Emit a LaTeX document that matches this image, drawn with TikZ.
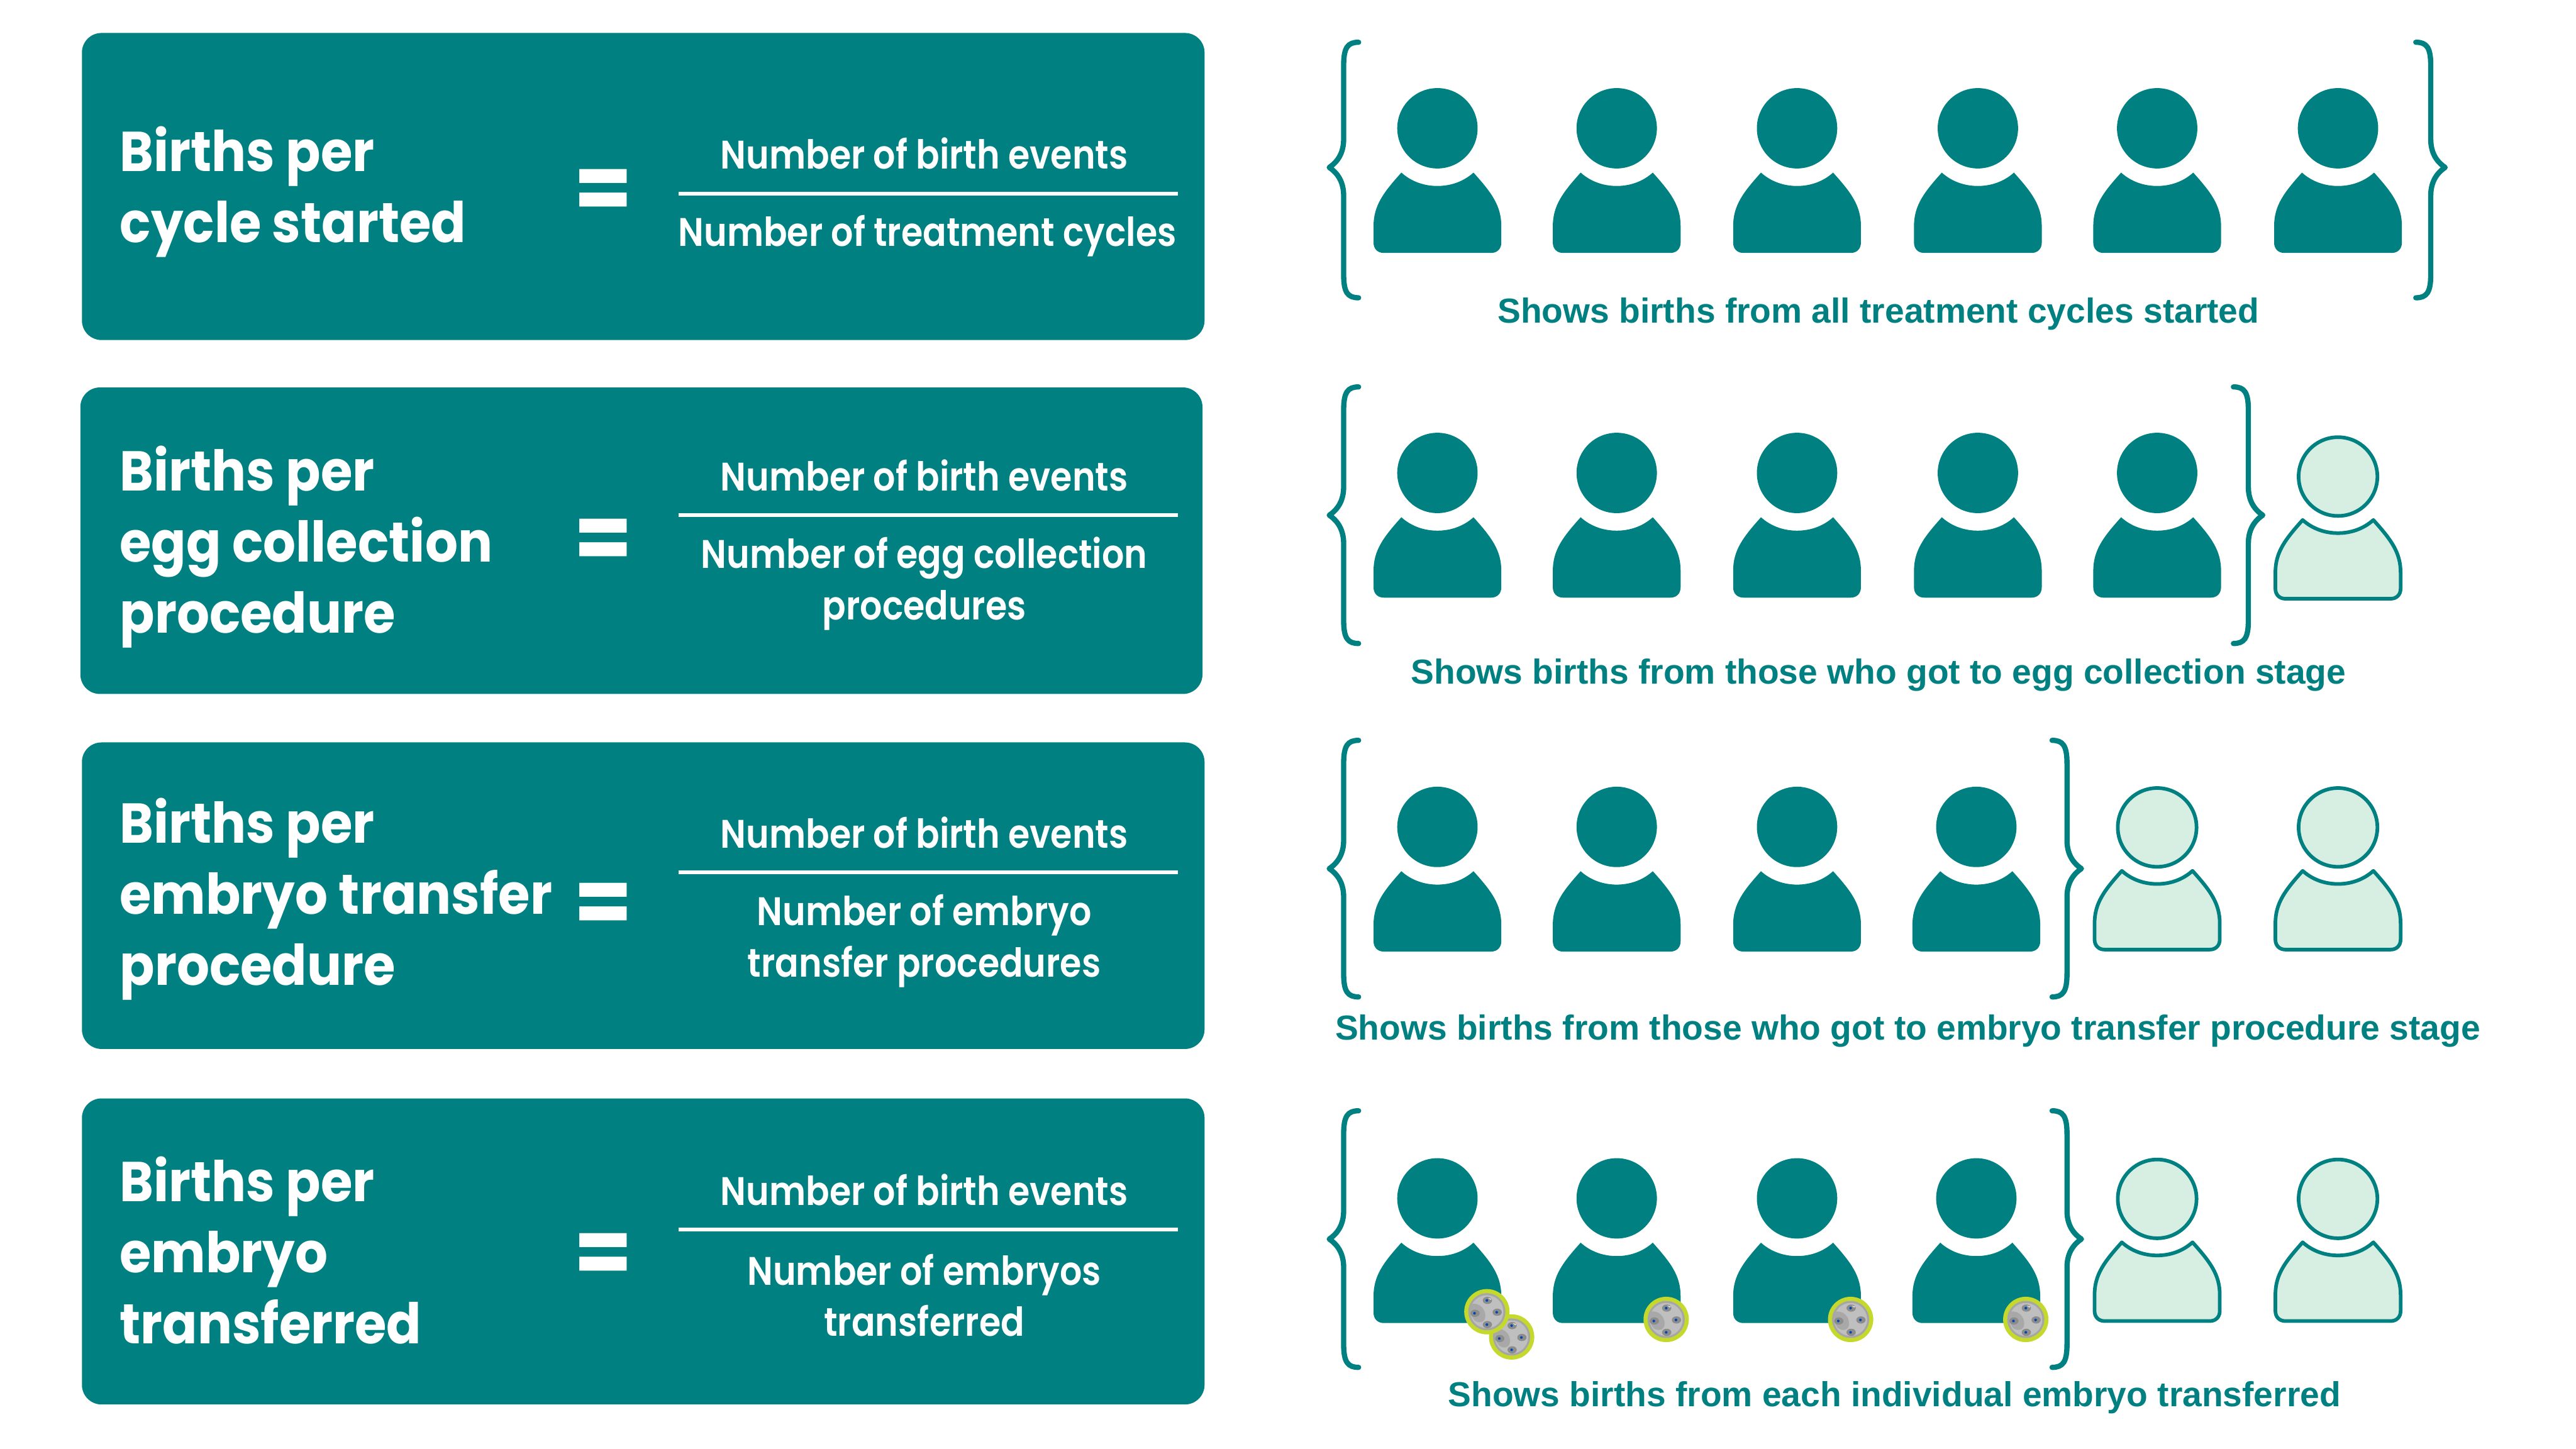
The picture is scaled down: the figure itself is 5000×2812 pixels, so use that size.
\documentclass[tikz,border=0pt]{standalone}
\usepackage{fontspec}
\setmainfont{Liberation Sans}
\newfontfamily\futura[FakeStretch=0.915]{Poppins}
\newfontfamily\futuramed[FakeStretch=0.875]{Poppins SemiBold}
\definecolor{tealbox}{HTML}{008080}
\definecolor{palegreen}{HTML}{D7EEE3}
\definecolor{limering}{HTML}{C5D92D}
\tikzset{
  rowbox/.style={fill=tealbox,rounded corners=0.38cm},
  titletext/.style={anchor=west,inner sep=0,text=white,align=left,font=\futura\bfseries\fontsize{31}{39.2}\selectfont},
  fractext/.style={anchor=center,inner sep=0,text=white,align=center,font=\futuramed\fontsize{22}{28.4}\selectfont},
  eqtext/.style={anchor=center,inner sep=0,text=white,font=\futura\bfseries\fontsize{51}{51}\selectfont},
  captext/.style={anchor=base,inner sep=0,text=tealbox,font=\bfseries\fontsize{19.15}{23}\selectfont},
  fracline/.style={draw=white,line width=2pt},
  bracket/.style={draw=tealbox,line width=2.9pt,line cap=round,line join=round},
}
% one person, head centre at #2,#3
\newcommand{\personshape}[3]{
  \path[#1] (#2,#3) circle (78);
  \path[#1] (#2-70,#3+86) .. controls (#2-50,#3+104) and (#2-25,#3+112) .. (#2,#3+112)
    .. controls (#2+25,#3+112) and (#2+50,#3+104) .. (#2+70,#3+86)
    .. controls (#2+105,#3+125) and (#2+124,#3+150) .. (#2+124,#3+190)
    -- (#2+124,#3+222) .. controls (#2+124,#3+234) and (#2+116,#3+242) .. (#2+104,#3+242)
    -- (#2-104,#3+242) .. controls (#2-116,#3+242) and (#2-124,#3+234) .. (#2-124,#3+222)
    -- (#2-124,#3+190) .. controls (#2-124,#3+150) and (#2-105,#3+125) .. (#2-70,#3+86) -- cycle;
}
\newcommand{\fullperson}[2]{\personshape{fill=tealbox}{#1}{#2+1}}
\newcommand{\emptyperson}[2]{
  \begin{scope}[shift={(#1,#2)},scale=0.98]
    \personshape{fill=palegreen,draw=tealbox,line width=2pt,line join=round}{0}{0}
  \end{scope}
}
% brace, opening to the right (#1=1) or to the left (#1=-1)
\newcommand{\rowbrace}[5]{
  \draw[bracket] (#2+#1*57,#3) .. controls (#2+#1*36,#3) and (#2+#1*28,#3+10) .. (#2+#1*28,#3+45)
    -- (#2+#1*28,#4-55) .. controls (#2+#1*28,#4-30) and (#2+#1*18,#4-12) .. (#2,#4)
    .. controls (#2+#1*18,#4+12) and (#2+#1*28,#4+30) .. (#2+#1*28,#4+55)
    -- (#2+#1*28,#5-45) .. controls (#2+#1*28,#5-10) and (#2+#1*36,#5) .. (#2+#1*57,#5);
}
\newcommand{\embryo}[2]{
  \begin{scope}[shift={(#1,#2)}]
    \fill[limering] (0,0) circle (44);
    \fill[gray!70] (0,0) circle (36);
    \fill[gray!50] (0,0) circle (32);
    \fill[gray!68] (-30,-15) .. controls (-14,-18) and (-3,-5) .. (-3,8) .. controls (-3,20) and (-14,24) .. (-24,17) .. controls (-32,8) and (-34,-5) .. (-30,-15) -- cycle;
    \foreach \cx/\cy in {1/-22,-23/3,20/1,1/25}{
      \fill[gray!90] (\cx,\cy) ellipse (9 and 7);
      \fill[blue!60!cyan!70!black] (\cx-1,\cy) circle (2.6);
    }
    \fill[white!80!gray] (2,-27) -- (9,-25) -- (7,-23) -- cycle;
  \end{scope}
}
\begin{document}
\begin{tikzpicture}[x=0.01cm,y=-0.01cm]
  \useasboundingbox (0,0) rectangle (5000,2812);
  % left boxes
  \path[rowbox] (159,64) rectangle (2338,660);
  \path[rowbox] (156,752) rectangle (2334,1347);
  \path[rowbox] (159,1441) rectangle (2338,2036);
  \path[rowbox] (159,2132) rectangle (2338,2726);
  \node[titletext] (titlea) at (232,372) {Births per\\cycle started};
  \node[titletext] (titleb) at (232,1062) {Births per\\egg collection\\procedure};
  \node[titletext] (titlec) at (232,1745) {Births per\\embryo transfer\\procedure};
  \node[titletext] (titled) at (232,2427) {Births per\\embryo\\transferred};
  \node[eqtext] (eqa) at (1171,378) {=};
  \node[eqtext] (eqb) at (1171,1057) {=};
  \node[eqtext] (eqc) at (1171,1764) {=};
  \node[eqtext] (eqd) at (1171,2444) {=};
  % fractions
  \node[fractext] (numa) at (1794,298) {Number of birth events};
  \node[fractext] (dena) at (1800,458) {Number of treatment cycles};
  \node[fractext] (numb) at (1794,923) {Number of birth events};
  \node[fractext] (denb) at (1794,1133) {Number of egg collection\\procedures};
  \node[fractext] (numc) at (1794,1616) {Number of birth events};
  \node[fractext] (denc) at (1794,1826) {Number of embryo\\transfer procedures};
  \node[fractext] (numd) at (1794,2310) {Number of birth events};
  \node[fractext] (dend) at (1794,2514) {Number of embryos\\transferred};
  \coordinate (lal) at (1317,376);  \coordinate (lar) at (2286,376);
  \coordinate (lbl) at (1317,1000); \coordinate (lbr) at (2286,1000);
  \coordinate (lcl) at (1317,1693); \coordinate (lcr) at (2286,1693);
  \coordinate (ldl) at (1317,2386); \coordinate (ldr) at (2286,2386);
  \draw[fracline] (lal) -- (lar);
  \draw[fracline] (lbl) -- (lbr);
  \draw[fracline] (lcl) -- (lcr);
  \draw[fracline] (ldl) -- (ldr);
  % people
  \foreach \px in {2790,3138,3488,3839,4187,4538}{\fullperson{\px}{248}}
  \foreach \px in {2790,3138,3488,3839,4187}{\fullperson{\px}{917}}
  \emptyperson{4538}{925}
  \foreach \px in {2790,3138,3488,3836}{\fullperson{\px}{1604}}
  \foreach \px in {4187,4538}{\emptyperson{\px}{1606}}
  \foreach \px in {2790,3138,3488,3836}{\fullperson{\px}{2325}}
  \foreach \px in {4187,4538}{\emptyperson{\px}{2327}}
  % braces
  \rowbrace{1}{2580}{82}{325}{578}
  \rowbrace{-1}{4746}{82}{325}{578}
  \rowbrace{1}{2580}{751}{1000}{1249}
  \rowbrace{-1}{4392}{751}{1000}{1249}
  \rowbrace{1}{2580}{1437}{1686}{1935}
  \rowbrace{-1}{4040}{1437}{1686}{1935}
  \rowbrace{1}{2580}{2156}{2405}{2654}
  \rowbrace{-1}{4040}{2156}{2405}{2654}
  % embryos
  \embryo{2934}{2595}
  \embryo{2886}{2546}
  \embryo{3234}{2561}
  \embryo{3592}{2561}
  \embryo{3932}{2561}
  % captions
  \node[captext] (capa) at (3646,627) {Shows births from all treatment cycles started};
  \node[captext] (capb) at (3646,1328) {Shows births from those who got to egg collection stage};
  \node[captext] (capc) at (3703,2018) {Shows births from those who got to embryo transfer procedure stage};
  \node[captext] (capd) at (3677,2730) {Shows births from each individual embryo transferred};
\end{tikzpicture}
\end{document}
